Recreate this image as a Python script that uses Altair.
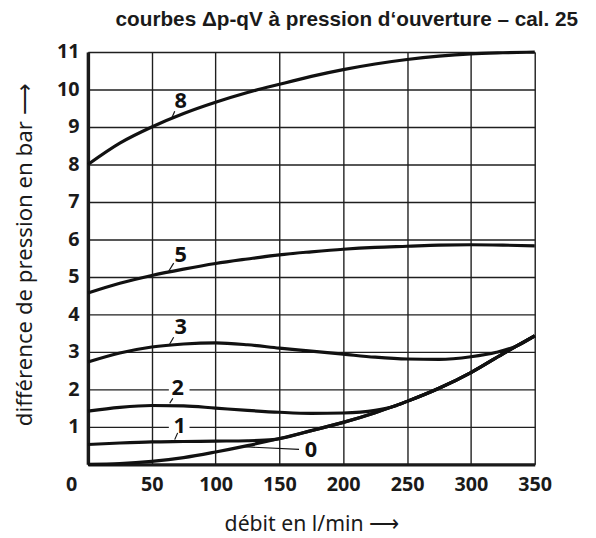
import altair as alt
import pandas as pd

# ---- data ----
x_c0 = [0, 25, 50, 75, 100, 125, 150, 175, 200, 225, 250, 275, 300, 325, 350]
y_c0 = [0.0, 0.02, 0.08, 0.18, 0.33, 0.5, 0.69, 0.9, 1.12, 1.38, 1.68, 2.03, 2.45, 2.95, 3.43]

x_c1 = [0, 25, 50, 75, 100, 125, 145, 175, 200, 225, 250, 275, 300, 325, 350]
y_c1 = [0.53, 0.57, 0.6, 0.61, 0.62, 0.63, 0.66, 0.9, 1.12, 1.38, 1.68, 2.03, 2.45, 2.95, 3.43]

x_c2 = [0, 25, 50, 75, 100, 125, 150, 175, 200, 225, 240, 250, 275, 300, 325, 350]
y_c2 = [1.42, 1.52, 1.57, 1.56, 1.5, 1.44, 1.39, 1.36, 1.37, 1.44, 1.55, 1.68, 2.03, 2.45, 2.95, 3.43]

x_c3 = [0, 25, 50, 75, 100, 125, 150, 175, 200, 225, 250, 275, 300, 320, 336, 350]
y_c3 = [2.73, 2.97, 3.13, 3.21, 3.24, 3.19, 3.1, 3.02, 2.94, 2.86, 2.81, 2.8, 2.87, 2.99, 3.16, 3.43]

x_c5 = [0, 25, 50, 75, 100, 125, 150, 175, 200, 225, 250, 275, 300, 325, 350]
y_c5 = [4.57, 4.83, 5.04, 5.21, 5.36, 5.48, 5.59, 5.67, 5.74, 5.79, 5.82, 5.85, 5.86, 5.85, 5.83]

x_c8 = [0, 25, 50, 75, 100, 125, 150, 175, 200, 225, 250, 275, 300, 325, 350]
y_c8 = [8.0, 8.57, 9.0, 9.36, 9.66, 9.92, 10.14, 10.35, 10.53, 10.68, 10.8, 10.89, 10.95, 10.98, 11.0]

curve_names = ["0", "1", "2", "3", "5", "8"]

# curve labels and their leader lines
lab_text = ["8", "5", "3", "2", "1", "0"]
lab_x = [72.6, 72.6, 72.6, 70.3, 71.9, 174.7]
lab_y = [9.68, 5.58, 3.66, 2.03, 1.03, 0.39]

lead_x1 = [65.7, 63.4, 64.1, 64.1, 68.0, 122.0]
lead_y1 = [9.24, 5.16, 3.21, 1.63, 0.66, 0.47]
lead_x2 = [68.0, 67.2, 67.2, 66.5, 70.3, 165.4]
lead_y2 = [9.42, 5.37, 3.39, 1.76, 0.84, 0.40]

# gaps cut into grid lines behind labels "2" and "1"
gap_x1 = [63.4, 63.4]
gap_x2 = [79.6, 79.6]
gap_y = [2, 1]

x_ticks = [0, 50, 100, 150, 200, 250, 300, 350]
y_ticks = [0, 1, 2, 3, 4, 5, 6, 7, 8, 9, 10, 11]

# ---- tables ----
rows = []
for name, xs, ys in zip(curve_names,
                        [x_c0, x_c1, x_c2, x_c3, x_c5, x_c8],
                        [y_c0, y_c1, y_c2, y_c3, y_c5, y_c8]):
    for a, b in zip(xs, ys):
        rows.append({"curve": name, "q": a, "dp": b})
curves = pd.DataFrame(rows)
labels = pd.DataFrame({"t": lab_text, "q": lab_x, "dp": lab_y})
leaders = pd.DataFrame({"q": lead_x1, "dp": lead_y1, "q2": lead_x2, "dp2": lead_y2})
gaps = pd.DataFrame({"q": gap_x1, "q2": gap_x2, "dp": gap_y})

LABEL_FONT = "Noto Sans"

xscale = alt.Scale(domain=[0, 350], nice=False, zero=False)
yscale = alt.Scale(domain=[0, 11], nice=False, zero=False)

xaxis = alt.Axis(
    values=x_ticks, tickCount=8, title="débit en l/min ⟶", grid=True, ticks=False,
    labelFont=LABEL_FONT, labelFontSize=20, labelFontWeight="bold", labelColor="#1a1a1a",
    labelPadding=11, labelOffset={"condition": {"test": "datum.value === 0", "value": -17}, "value": 0},
    labelFlush=False, labelOverlap=False,
    titleFont=LABEL_FONT, titleFontSize=21.5, titleFontWeight="normal", titleColor="#1a1a1a",
    titleY=61, titleBaseline="middle",
    domainColor="#1a1a1a", domainWidth=3.5,
    gridColor="#1f1f1f", gridWidth=1.4, gridOpacity=1,
)
yaxis = alt.Axis(
    values=y_ticks, tickCount=12, title="différence de pression en bar ⟶", grid=True, ticks=False,
    labelExpr="datum.value === 0 ? '' : datum.label",
    labelFont=LABEL_FONT, labelFontSize=20, labelFontWeight="bold", labelColor="#1a1a1a",
    labelPadding=9, labelFlush=False, labelOverlap=False,
    titleFont=LABEL_FONT, titleFontSize=22.5, titleFontWeight="normal", titleColor="#1a1a1a",
    titleX=-64, titleY=205, titleBaseline="middle", titleAlign="center", titleAngle=270,
    domainColor="#1a1a1a", domainWidth=3.5,
    gridColor="#1f1f1f", gridWidth=1.4, gridOpacity=1,
)

X = alt.X("q:Q", scale=xscale, axis=xaxis)
Y = alt.Y("dp:Q", scale=yscale, axis=yaxis)

lines = alt.Chart(curves).mark_line(color="#111", strokeWidth=3.2, interpolate="monotone").encode(
    x=X, y=Y, detail="curve:N", order="q:Q",
)

gap_marks = alt.Chart(gaps).mark_rule(color="white", strokeWidth=4).encode(
    x=X, x2="q2:Q", y=Y
)

leader_marks = alt.Chart(leaders).mark_rule(color="#111", strokeWidth=1.2).encode(
    x=X, y=Y, x2="q2:Q", y2="dp2:Q"
)

label_marks = alt.Chart(labels).mark_text(
    font=LABEL_FONT, fontSize=22, fontWeight="bold", color="#111",
    align="center", baseline="middle"
).encode(x=X, y=Y, text="t:N")

chart = alt.layer(lines, gap_marks, leader_marks, label_marks).properties(
    width=453, height=418,
    padding={"left": 81, "top": 41, "right": 54, "bottom": 71},
    autosize=alt.AutoSizeParams(type="none"),
    title=alt.TitleParams(
        "courbes Δp-qV à pression d‘ouverture – cal. 25",
        font="Liberation Sans", fontSize=21, fontWeight="bold", color="#1a1a1a",
        anchor="middle", frame="group", dx=36, offset=12,
    ),
).configure_view(stroke=None).configure(background="white")

chart.save("out.html", embed_options={"renderer": "svg", "actions": False})
